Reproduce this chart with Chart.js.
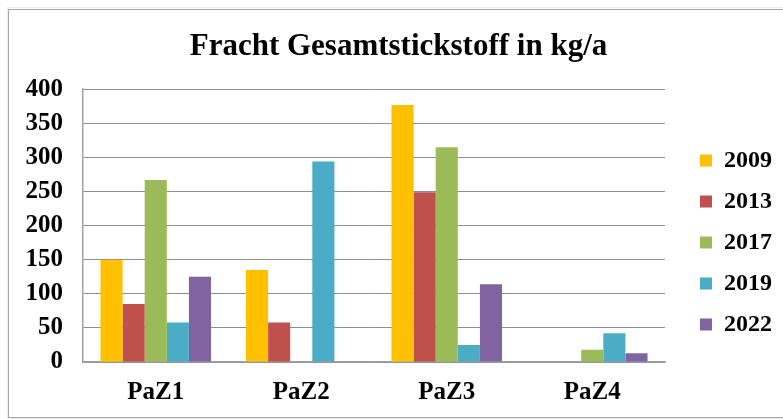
<!DOCTYPE html>
<html>
<head>
<meta charset="utf-8">
<script src="https://cdn.jsdelivr.net/npm/chart.js@4"></script>
<style>
  html, body { margin: 0; padding: 0; background: #ffffff; }
  #wrap { width: 783px; height: 419px; position: relative; }
</style>
</head>
<body>
<div id="wrap"><canvas id="c" width="783" height="419"></canvas></div>
<script>
// ---- data ----
const categories = ["PaZ1", "PaZ2", "PaZ3", "PaZ4"];
const years = ["2009", "2013", "2017", "2019", "2022"];
const values2009 = [150, 135, 377, null];
const values2013 = [85, 58, 249, null];
const values2017 = [267, null, 315, 18];
const values2019 = [58, 294, 25, 42];
const values2022 = [125, null, 114, 13];
const yTicks = [0, 50, 100, 150, 200, 250, 300, 350, 400];
const titleText = "Fracht Gesamtstickstoff in kg/a";

const seriesValues = [values2009, values2013, values2017, values2019, values2022];
const colors = ["#FFC000", "#C0504D", "#9BBB59", "#4BACC6", "#8064A2"];

const serif = "'Liberation Serif', 'Times New Roman', serif";

const frame = {
  id: "frame",
  beforeDraw(chart) {
    const ctx = chart.ctx;
    ctx.save();
    ctx.fillStyle = "#ffffff";
    ctx.fillRect(0, 0, chart.width, chart.height);
    ctx.strokeStyle = "#ececec";
    ctx.lineWidth = 1;
    ctx.strokeRect(7.5, 7.5, 900, 411);
    ctx.strokeStyle = "#a6a6a6";
    ctx.strokeRect(8.5, 9.5, 900, 408);
    ctx.restore();
  }
};

const boxShift = {
  id: "boxShift",
  afterLayout(chart) {
    const lg = chart.legend;
    if (lg) {
      const dx = 18, dy = 17;
      lg.left += dx; lg.right += dx;
      lg.top += dy; lg.bottom += dy;
    }
    const tt = chart.titleBlock;
    if (tt) {
      tt.left += 12; tt.right += 12;
    }
  }
};

new Chart(document.getElementById("c"), {
  type: "bar",
  data: {
    labels: categories,
    datasets: years.map((y, i) => ({
      label: y,
      data: seriesValues[i],
      backgroundColor: colors[i],
      borderWidth: 0,
      categoryPercentage: 0.76,
      barPercentage: 1.0
    }))
  },
  plugins: [frame, boxShift],
  options: {
    responsive: false,
    animation: false,
    layout: { padding: { left: 9, right: 19, top: 9, bottom: 2 } },
    plugins: {
      title: {
        display: true,
        text: titleText,
        color: "#000000",
        font: { family: serif, size: 31, weight: "bold" },
        padding: { top: 19, bottom: 24 }
      },
      legend: {
        display: true,
        position: "right",
        fullSize: false,
        labels: {
          color: "#000000",
          font: { family: serif, size: 24, weight: "bold" },
          boxWidth: 12,
          boxHeight: 12,
          padding: 17
        }
      },
      tooltip: { enabled: false }
    },
    scales: {
      x: {
        grid: { display: false, drawTicks: false },
        border: { display: true, color: "#a0a0a0", width: 1.5 },
        ticks: {
          color: "#000000",
          font: { family: serif, size: 25, weight: "bold" },
          padding: 16
        },
        afterFit(scale) { scale.height = 55; }
      },
      y: {
        min: 0,
        max: 400,
        afterBuildTicks(scale) { scale.ticks = yTicks.map(v => ({ value: v })); },
        grid: { color: "#8e8e8e", lineWidth: 1, drawTicks: false },
        border: { display: true, color: "#a0a0a0", width: 1.5 },
        ticks: {
          color: "#000000",
          font: { family: serif, size: 25, weight: "bold" },
          padding: 20
        },
        afterFit(scale) { scale.width = 74; }
      }
    }
  }
});
</script>
</body>
</html>
